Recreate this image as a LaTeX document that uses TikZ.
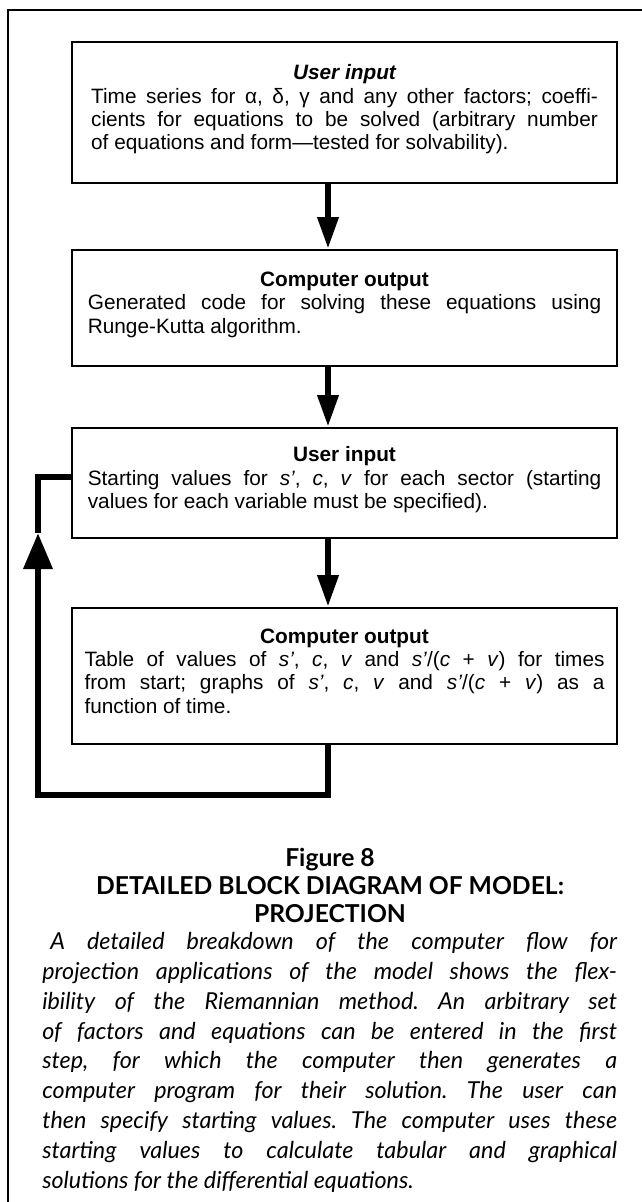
\documentclass[tikz,border=0pt]{standalone}
\usepackage{fontspec}
\setmainfont{Liberation Sans}
\newfontfamily\capfont{Lato}
\usetikzlibrary{arrows.meta}
\setlength{\parindent}{0pt}
\frenchspacing
\tikzset{
  block/.style={draw, anchor=north, line width=1.6pt, minimum width=408.75pt,
    inner xsep=0pt, inner ysep=0pt, align=justify,
    font=\fontsize{15.6}{17.5}\selectfont},
  flow/.style={line width=5pt, -{Triangle[length=24pt,width=15pt]}},
  loopline/.style={line width=5pt},
  frame/.style={line width=1.4pt}
}
\newcommand{\fbblock}[6] {\node at (#1) (#2) [block, minimum height=#3, text width=#4] {{\centering\bfseries #5\par}#6\rule[-8pt]{0pt}{0pt}};}
\newcommand{\fbarrow}[2] {\draw [flow] (#1.south -| arrowx) -- (#2.north -| arrowx);}

\begin{document}
\begin{tikzpicture}[x=0.75pt,y=-0.75pt]
\useasboundingbox (0,0) rectangle (642,1202);
\draw [frame] (642,10) -| (8,1202);
\coordinate (arrowx) at (328,0);
\fbblock{344.5,41}{userin}{105.75pt}{380pt}{\itshape User input}{Time series for α, δ, γ and any other factors; coeffi-\linebreak cients for equations to be solved (arbitrary number\linebreak of equations and form—tested for solvability).}
\fbblock{344.5,249}{codeout}{87pt}{385pt}{Computer output}{Generated code for solving these equations using\linebreak Runge-Kutta algorithm.}
\fbblock{344.5,427}{startin}{82.5pt}{385pt}{User input}{Starting values for \textit{s'}, \textit{c}, \textit{v} for each sector (starting\linebreak values for each variable must be specified).}
\fbblock{344.5,607}{tableout}{102pt}{390pt}{Computer output}{Table of values of \textit{s'}, \textit{c}, \textit{v} and \textit{s'}/(\textit{c} + \textit{v}) for times\linebreak from start; graphs of \textit{s'}, \textit{c}, \textit{v} and \textit{s'}/(\textit{c} + \textit{v}) as a\linebreak function of time.}
\fbarrow{userin}{codeout}
\fbarrow{codeout}{startin}
\fbarrow{startin}{tableout}
% feedback loop
\coordinate (loopdrop) at (328,795);
\coordinate (loopleft) at (38,795);
\coordinate (looptip) at (38,533);
\coordinate (loopin) at (38,477);
\draw [loopline, -{Triangle[length=27pt,width=21pt]}] (tableout.south -| loopdrop) -- (loopdrop) -- (loopleft) -- (looptip);
\draw [loopline] (looptip) -- (loopin) -- (loopin -| startin.west);
% caption
\node at (330,860) (figno) [font=\capfont\bfseries\fontsize{18.5}{21}\selectfont] {Figure 8};
\node at (330,900) (figtitle) [align=center, font=\capfont\bfseries\fontsize{18.5}{21}\selectfont] {DETAILED BLOCK DIAGRAM OF MODEL:\\PROJECTION};
\node at (42,932) (figtext) [anchor=north west, inner sep=0pt, text width=431pt, align=justify, font=\capfont\itshape\fontsize{17.5}{22.4}\selectfont] {\hspace*{6pt}A detailed breakdown of the computer flow for\linebreak projection applications of the model shows the flex-\linebreak ibility of the Riemannian method. An arbitrary set\linebreak of factors and equations can be entered in the first\linebreak step, for which the computer then generates a\linebreak computer program for their solution. The user can\linebreak then specify starting values. The computer uses these\linebreak starting values to calculate tabular and graphical\linebreak solutions for the differential equations.};
\end{tikzpicture}
\end{document}
